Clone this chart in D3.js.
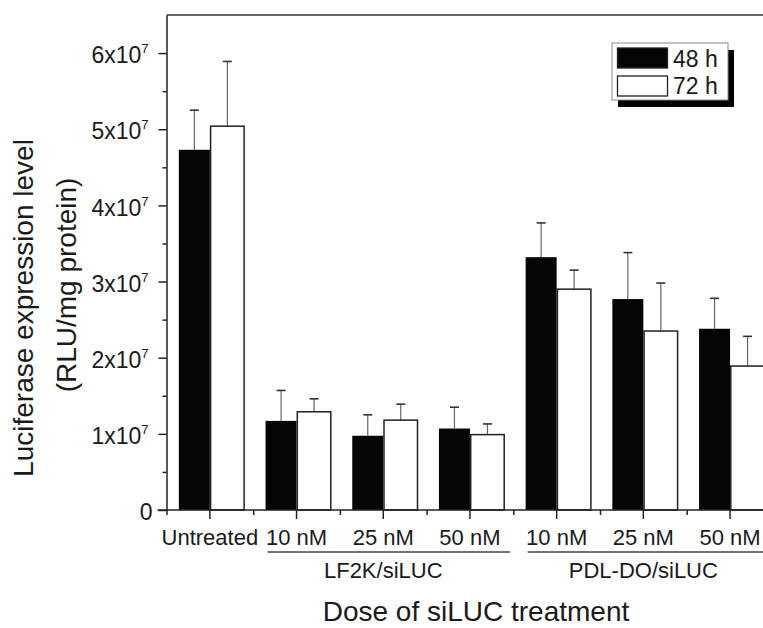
<!DOCTYPE html>
<script src="https://cdn.jsdelivr.net/npm/d3@7"></script>
<html>
    <head>
        <style>
            body { margin: 0; background: #fff; }
            text { font-family: "Liberation Sans", Arial, sans-serif; fill: #1a1a1a; }
        </style>
    </head>
    <body>
        <div id="chart-div"></div>
        <script>
            // data (luciferase expression, RLU/mg protein)
            const categories = ["Untreated", "10 nM", "25 nM", "50 nM", "10 nM", "25 nM", "50 nM"];
            const groups = [
                { label: "LF2K/siLUC", first: 1, last: 3 },
                { label: "PDL-DO/siLUC", first: 4, last: 6 }
            ];
            const series = ["48 h", "72 h"];
            const mean48 = [4.73e7, 1.17e7, 0.975e7, 1.07e7, 3.32e7, 2.77e7, 2.38e7];
            const err48 = [0.52e7, 0.40e7, 0.275e7, 0.28e7, 0.45e7, 0.61e7, 0.40e7];
            const mean72 = [5.04e7, 1.29e7, 1.18e7, 0.99e7, 2.90e7, 2.35e7, 1.89e7];
            const err72 = [0.85e7, 0.17e7, 0.21e7, 0.14e7, 0.25e7, 0.63e7, 0.39e7];
            const yTicks = [0, 1e7, 2e7, 3e7, 4e7, 5e7, 6e7];
            const yMinorTicks = [0.5e7, 1.5e7, 2.5e7, 3.5e7, 4.5e7, 5.5e7];

            const width = 763;
            const height = 628;
            const plot = { left: 166.5, top: 15, bottom: 510, step: 86.7 };

            const svg = d3.select("#chart-div")
                .append("svg")
                .attr("width", width)
                .attr("height", height);

            // scales
            const x = d3.scaleBand()
                .domain(d3.range(categories.length))
                .range([plot.left, plot.left + plot.step * categories.length])
                .padding(0);

            const xEdges = d3.scaleLinear()
                .domain([0, categories.length])
                .range(x.range());

            const y = d3.scaleLinear()
                .domain([0, 6.5e7])
                .range([plot.bottom, plot.top]);

            // bars: black 48 h left of tick, white 72 h right of tick
            const wBlack = 31, wWhite = 35;
            const rows = categories.map((c, i) => ({ i: i, m48: mean48[i], e48: err48[i], m72: mean72[i], e72: err72[i] }));
            const center = i => x(i) + x.bandwidth() / 2;

            // error bars (upper only), drawn under the bars
            const errG = svg.append("g").attr("stroke", "#666").attr("stroke-width", 1.2);
            rows.forEach(d => {
                [[center(d.i) - wBlack / 2, d.m48, d.e48], [center(d.i) + wWhite / 2, d.m72, d.e72]].forEach(e => {
                    errG.append("line")
                        .attr("x1", e[0]).attr("x2", e[0])
                        .attr("y1", y(e[1])).attr("y2", y(e[1] + e[2]));
                    errG.append("line")
                        .attr("x1", e[0] - 4.5).attr("x2", e[0] + 4.5)
                        .attr("y1", y(e[1] + e[2])).attr("y2", y(e[1] + e[2]))
                        .attr("stroke", "#333").attr("stroke-width", 1.6);
                });
            });

            svg.append("g").selectAll("rect")
                .data(rows)
                .enter()
                .append("rect")
                .attr("x", d => center(d.i) - wBlack)
                .attr("y", d => y(d.m48))
                .attr("width", wBlack)
                .attr("height", d => plot.bottom - y(d.m48))
                .attr("fill", "#050505");

            svg.append("g").selectAll("rect")
                .data(rows)
                .enter()
                .append("rect")
                .attr("x", d => center(d.i) + 0.75)
                .attr("y", d => y(d.m72))
                .attr("width", wWhite - 1.5)
                .attr("height", d => plot.bottom - y(d.m72))
                .attr("fill", "#fff")
                .attr("stroke", "#222")
                .attr("stroke-width", 1.5);

            // top frame line
            svg.append("line")
                .attr("x1", plot.left).attr("x2", x.range()[1])
                .attr("y1", plot.top).attr("y2", plot.top)
                .attr("stroke", "#333").attr("stroke-width", 1.5);

            // y axis
            const yAxis = svg.append("g")
                .attr("transform", "translate(" + plot.left + ",0)")
                .call(d3.axisLeft(y).tickValues(yTicks).tickSize(8).tickSizeOuter(0).tickPadding(10).tickFormat(""));
            yAxis.selectAll(".tick text").each(function (d) {
                const t = d3.select(this)
                    .attr("font-size", 23)
                    .attr("dy", "0.42em")
                    .attr("fill", "#1a1a1a");
                if (d === 0) {
                    t.text("0").attr("x", -14);
                } else {
                    t.append("tspan").text((d / 1e7) + "x10");
                    t.append("tspan").text("7").attr("font-size", 13).attr("dy", -10);
                }
            });
            svg.append("g")
                .attr("transform", "translate(" + plot.left + ",0)")
                .call(d3.axisLeft(y).tickValues(yMinorTicks).tickSize(4).tickSizeOuter(0).tickFormat(""))
                .select(".domain").remove();

            // x axis
            const xAxis = svg.append("g")
                .attr("transform", "translate(0," + plot.bottom + ")")
                .call(d3.axisBottom(x).tickSize(9).tickSizeOuter(0).tickFormat(i => categories[i]));
            xAxis.selectAll(".tick text")
                .attr("font-size", 22)
                .attr("y", 35)
                .attr("dy", 0)
                .attr("fill", "#1a1a1a");
            svg.append("g")
                .attr("transform", "translate(0," + plot.bottom + ")")
                .call(d3.axisBottom(xEdges).tickValues(d3.range(categories.length + 1)).tickSize(5).tickSizeOuter(0).tickFormat(""))
                .select(".domain").remove();
            xAxis.select(".domain").attr("d", "M" + (plot.left - 9) + ",0H" + x.range()[1]);

            svg.selectAll(".domain, .tick line").attr("stroke", "#222").attr("stroke-width", 1.5);

            // group labels with underline
            const grp = svg.append("g");
            groups.forEach(g => {
                grp.append("line")
                    .attr("x1", center(g.first) - 29).attr("x2", center(g.last) + 40)
                    .attr("y1", 552).attr("y2", 552)
                    .attr("stroke", "#444").attr("stroke-width", 1.3);
                grp.append("text")
                    .attr("x", (center(g.first) + center(g.last)) / 2)
                    .attr("y", 578)
                    .attr("text-anchor", "middle")
                    .attr("font-size", 22)
                    .text(g.label);
            });

            // axis titles
            svg.append("text")
                .attr("x", 476)
                .attr("y", 621)
                .attr("text-anchor", "middle")
                .attr("font-size", 28)
                .text("Dose of siLUC treatment");

            const yTitle = svg.append("text")
                .attr("transform", "translate(33,308) rotate(-90)")
                .attr("text-anchor", "middle")
                .attr("font-size", 28);
            yTitle.append("tspan").attr("x", 0).attr("y", 0).text("Luciferase expression level");
            yTitle.append("tspan").attr("x", 23).attr("y", 43).text("(RLU/mg protein)");

            // legend with drop shadow
            const legend = svg.append("g").attr("transform", "translate(612,43)");
            legend.append("rect")
                .attr("x", 6).attr("y", 7).attr("width", 116).attr("height", 57)
                .attr("fill", "#000");
            legend.append("rect")
                .attr("x", 0).attr("y", 0).attr("width", 116).attr("height", 57)
                .attr("fill", "#fff").attr("stroke", "#888").attr("stroke-width", 1);
            series.forEach((s, k) => {
                legend.append("rect")
                    .attr("x", 5.5).attr("y", 5 + k * 28).attr("width", 50).attr("height", 20)
                    .attr("fill", k === 0 ? "#050505" : "#fff")
                    .attr("stroke", "#222").attr("stroke-width", 1.3);
                legend.append("text")
                    .attr("x", 61).attr("y", 23.5 + k * 27.5)
                    .attr("font-size", 23)
                    .text(s);
            });
        </script>
    </body>
</html>
